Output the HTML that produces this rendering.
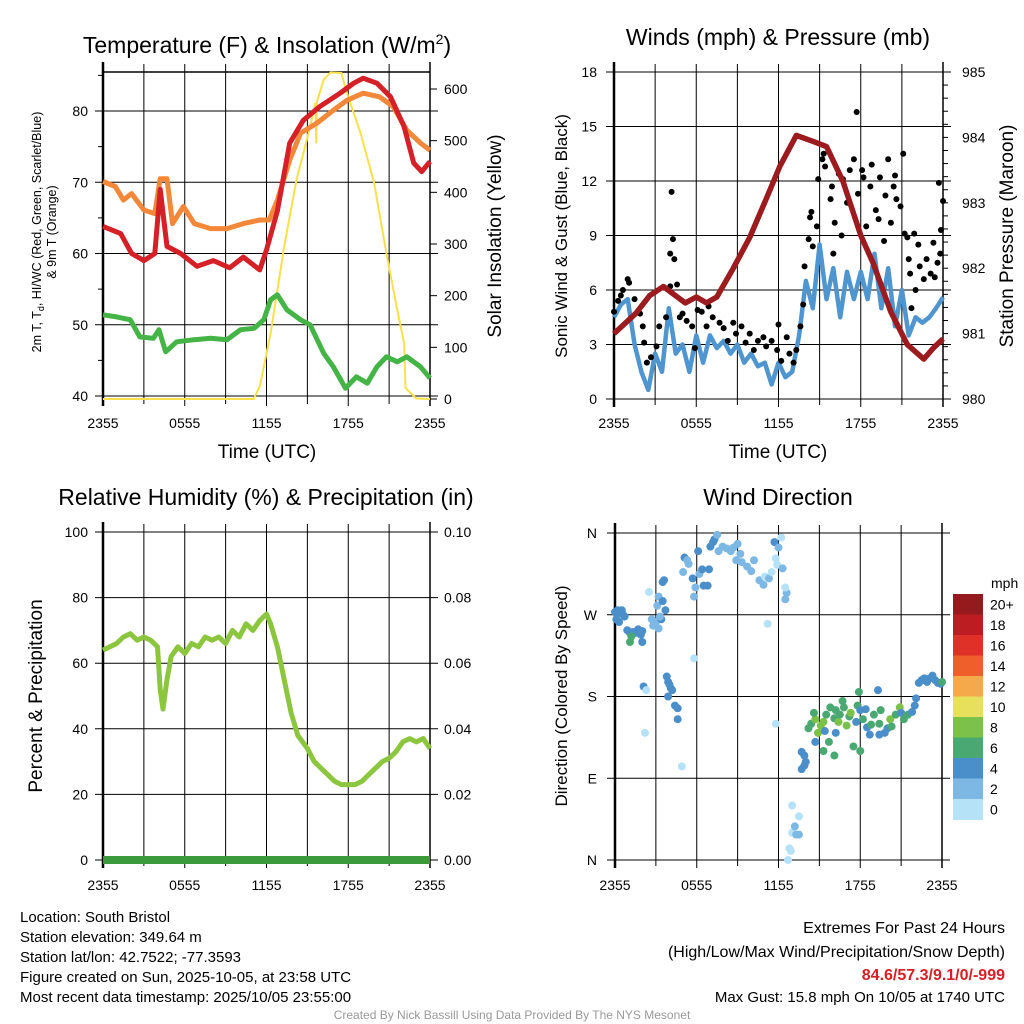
<!DOCTYPE html>
<html><head><meta charset="utf-8"><style>
body{margin:0;background:#fff;}
svg{display:block;font-family:"Liberation Sans",sans-serif;}
</style></head><body>
<svg id="c" width="1024" height="1024" viewBox="0 0 1024 1024"></svg>
<script>
// ---- Temperature panel data (hours since 2355 UTC) ----
const tRedH=[0,1.3,2.1,3,3.8,4.2,4.7,5.7,6.9,8.1,9.3,10.3,11.5,12,12.8,13.7,14.7,15.9,17.4,18.4,19.1,20.1,21.1,22.1,22.8,23.4,24];
const tRedV=[63.8,62.8,60,59,60,69,61,60,58.2,59,58,59.5,57.7,60.5,66,75.5,78.7,80.6,82.5,83.9,84.6,83.9,82,77.8,72.7,71.5,72.9];
const tOrH=[0,0.9,1.5,2.1,3,3.8,4.2,4.7,5.1,5.9,6.7,7.9,9.1,10.3,11.5,12.2,12.8,13.7,14.5,15.7,16.9,17.9,19.1,20.3,21.3,22.3,23.3,24];
const tOrV=[70.1,69.4,67.5,68.4,66.1,65.6,70.5,70.5,64.2,66.6,64.2,63.5,63.5,64.2,64.7,64.7,67.5,73.1,76.9,78.3,80.1,81.5,82.5,82,80.6,77.3,75.5,74.5];
const tGrH=[0,1,2,2.7,3.7,4.1,4.6,5.4,6.7,7.9,9.1,10.1,11.1,11.8,12.3,12.8,13.5,14.5,15.2,16.2,16.9,17.8,18.6,19.4,20.1,20.8,21.6,22.3,23.3,24];
const tGrV=[51.4,51.1,50.7,48.3,48.1,49.3,46.2,47.6,47.9,48.1,47.9,49.3,49.5,50.7,53.5,54.2,52.1,50.7,50,46,44.1,41.1,42.7,41.8,44.1,45.5,44.8,45.5,44.1,42.5];
const solH=[0,11.05,11.5,12.3,13.3,14.2,15.2,15.6,15.65,15.7,16.2,16.7,17.5,17.9,18.9,19.9,20.8,21.6,22.1,22.2,23,24];
const solV=[0,0,24,127,295,424,527,573,495,575,618,632,631,592,515,418,282,172,108,21,1,0];
// ---- Wind panel ----
const windH=[0,0.5,1,1.5,2,2.5,3,3.5,4,4.5,5,5.5,6,6.5,7,7.5,8,8.5,9,9.5,10,10.5,11,11.5,12,12.5,13,13.5,14,14.5,15,15.5,16,16.5,17,17.5,18,18.5,19,19.5,20,20.5,21,21.5,22,22.5,23,23.5,24];
const windV=[4.5,5.2,5.5,3,1.5,0.5,2.5,1.5,5,2.5,3,1.5,3.5,2,3.5,2.8,3.2,2.5,3,2,2.5,1.8,2,0.8,2,1.2,1.5,3.5,6.5,5,8.5,5.5,7.2,4.5,7,5.5,7,5.5,8,5,7.2,4,6,3.5,4.5,4.2,4.5,5,5.6];
const gustH=[0,0.3,0.5,0.65,1,1.1,1.5,1.9,2.1,2.2,2.4,2.7,3.1,3.3,3.8,4.1,4.1,4.3,4.2,4.4,4.6,4.8,5,5.3,5.7,5.9,6.1,6.4,6.75,6.9,7.2,7.7,8,8.3,8.7,8.9,9.3,9.6,9.9,10.2,10.5,10.9,11.1,11.5,11.9,12,12.2,12.6,12.8,13.1,13.3,13.6,13.8,13.9,14.2,14.3,14.4,14.5,14.8,14.9,15.2,15.3,15.4,15.8,15.9,16,16.1,16.4,16.6,16.7,17,17.2,17.5,17.7,17.8,18.1,18.2,18.4,18.7,18.8,19.1,19.3,19.4,19.7,19.8,20,20.2,20.4,20.5,20.6,20.9,21.1,21.2,21.4,21.5,21.6,21.7,21.9,22,22.2,22.3,22.6,22.8,23.1,23.3,23.4,23.6,23.7,23.8,23.85,24];
const gustV=[4.8,5.4,5.7,6,6.6,6.4,5.5,4.7,4,3.1,2,2.3,2.9,4,4.5,6.2,8,8.8,11.4,7.7,6.3,4.5,4.7,4.3,4,2.8,4.9,4.8,4,5.1,4.5,4.2,3.9,3.2,4.2,3.6,4,3.1,3.6,2.7,3.2,3.4,2.9,3.2,2.7,4.1,2.1,3.4,2.5,2,2.7,4,5.2,7.3,8.8,10,10.3,8.4,9.5,12.1,13.2,13.5,12.8,11,11.7,8,9.7,12.4,9,12.1,10.8,12.6,13.2,15.8,11.3,12.6,12.2,9.5,11.7,12.9,10.4,9.9,12.2,8.7,11.2,13.2,9.7,11.7,12.3,11,10.6,13.5,9.1,8.9,7.7,6.9,5,9.1,6,8.5,7.3,6.6,7.7,6.9,8.6,6.7,7.5,11.9,8,9.3,10.9];
const presH=[0,1.6,2.6,3.6,4.3,5.2,6,6.75,7.5,8.7,9.9,11.1,12.1,13.3,14.5,15.5,16.7,18,18.9,20.2,21.4,22.6,23.3,24];
const presV=[981.0,981.31,981.58,981.72,981.61,981.47,981.56,981.47,981.56,982.0,982.47,983.06,983.56,984.03,983.94,983.86,983.33,982.5,982.08,981.33,980.83,980.61,980.78,980.92];
// ---- RH panel ----
const rhH=[0,1,1.5,2,2.5,3,3.5,4,4.2,4.4,4.7,5,5.5,6,6.5,7,7.5,8,8.5,9,9.5,10,10.5,11,11.5,12,12.3,12.8,13.3,13.8,14.3,15,15.5,16,16.5,17,17.5,18,18.5,19,19.5,20,20.5,21,21.5,22,22.5,23,23.5,24];
const rhV=[64,66,68,69,67,68,67,65,52,46,55,62,65,63,66,65,68,67,68,66,70,68,72,70,73,75,72,65,55,45,38,34,30,28,26,24,23,23,23,24,26,28,30,31,33,36,37,36,37,34];
const precipH=[0,24];
const precipV=[0,0];
// ---- Wind direction ----
const dirH=[0,0.2,0.4,0.5,0.6,0.7,0.1,0.3,0.9,1.1,1.3,1.5,1.7,1.9,2.0,1.2,1.1,2.0,2.5,2.7,2.8,3.0,3.1,3.2,3.2,3.4,3.3,3.5,3.6,3.7,3.5,2.1,2.3,2.2,3.8,3.9,4.0,4.1,4.2,3.9,4.4,4.6,4.6,4.9,5.8,5.0,5.1,5.3,5.4,5.7,5.8,5.9,6.1,6.2,6.4,6.5,6.8,6.9,7.0,7.2,7.3,7.5,7.6,7.9,8.2,8.5,8.7,9.0,9.2,9.3,8.9,9.7,10.0,10.2,10.6,10.9,11.0,11.3,11.8,11.9,11.5,11.7,12.0,12.3,12.5,12.6,12.5,12.2,11.2,11.8,12.7,12.9,12.8,13.0,13.3,13.5,13.2,13.0,13.5,13.7,13.9,14.0,13.9,13.7,14.2,14.4,14.7,14.6,14.9,15.1,15.3,15.5,15.4,15.8,15.7,16.1,16.2,16.4,16.5,16.7,16.8,17.0,17.2,17.3,17.5,17.7,17.8,17.9,18.0,18.2,18.4,18.5,18.8,19.0,19.3,19.4,19.5,19.8,20.0,20.2,20.3,20.6,20.9,21.0,21.2,21.5,21.8,22.0,22.1,16.1,18.0,16.2,14.7,18.7,19.4,15.3,22.3,22.5,22.7,22.9,23.1,23.3,23.5,23.7,23.9,24.0];
const dirV=[273,275,272,275,270,268,265,262,253,250,251,250,254,248,252,246,240,240,295,265,258,262,280,255,290,265,268,306,308,275,285,191,187,140,202,196,193,189,187,180,170,167,155,103,222,317,333,330,326,310,290,300,340,315,320,302,302,320,345,350,353,358,340,345,343,340,344,348,337,328,330,323,318,330,308,303,312,310,332,325,317,350,344,321,287,294,300,355,260,150,0,10,13,30,28,28,37,60,48,100,104,108,115,119,145,150,155,162,140,148,152,160,142,168,130,156,165,152,160,175,168,148,158,162,125,152,170,185,165,155,166,146,149,160,187,150,165,140,145,155,147,160,168,162,155,160,163,170,178,115,120,140,130,138,138,120,195,198,200,196,200,203,198,195,194,196];
const dirS=[4,4,4,4,4,4,4,3,4,4,4,4,3,4,3,6,6,3,1,2,2,2,2,2,2,3,2,3,3,3,3,3,1,1,3,3,4,4,4,3,4,4,3,1,1,2,4,2,2,3,2,2,4,2,4,3,3,4,4,4,4,2,2,2,2,2,2,2,2,2,2,2,2,2,2,2,1,2,1,1,1,3,2,2,2,2,1,1,1,1,1,1,1,1,2,2,2,1,1,3,4,4,4,3,6,6,8,6,8,8,8,6,4,6,6,6,6,8,6,6,6,8,6,8,6,4,6,6,4,6,4,4,6,6,4,6,6,4,4,8,6,6,8,4,6,6,4,4,4,6,6,4,4,4,4,6,4,4,4,4,4,4,4,4,4,6];
const cbLabels=["20+","18","16","14","12","10","8","6","4","2","0"];
const cbColors=["#951a1d","#bb1d23","#df3127","#ef5f2b","#f6a94b","#e6e05c","#7cc24a","#4aa873","#4a8fc9","#7db8e4","#b6e2f8"];

const NS="http://www.w3.org/2000/svg";
const svg=document.getElementById('c');
function el(tag,attrs,parent,text){const e=document.createElementNS(NS,tag);for(const k in attrs)e.setAttribute(k,attrs[k]);if(text!==undefined)e.textContent=text;(parent||svg).appendChild(e);return e;}
function lin(d0,d1,r0,r1){return v=>r0+(v-d0)*(r1-r0)/(d1-d0);}
function pathFrom(xs,ys,fx,fy){return xs.map((h,i)=>(i?'L':'M')+fx(h).toFixed(1)+','+fy(ys[i]).toFixed(1)).join('');}
function txt(x,y,s,size,anchor,extra,name){const t=el('text',Object.assign({x:x,y:y,'font-size':size,'text-anchor':anchor||'middle',fill:'#000'},extra||{}),svg,s);return t;}
function speedIdx(s){return 10-(s<=1?0:(s<=2?1:Math.ceil(s/2)));}

function frame(x0,x1,y0,y1,name,hTicks,fyL,xlabY){
  const g=el('g',{});
  const fx=lin(0,24,x0,x1);
  for(let h=0;h<=24;h+=3){el('line',{x1:fx(h),x2:fx(h),y1:y0-8,y2:y1+(h%6==0?8:6),stroke:'#000','stroke-width':1},g);}
  hTicks.forEach(v=>{el('line',{x1:x0-8,x2:x1+8,y1:fyL(v),y2:fyL(v),stroke:'#000','stroke-width':1},g);});
  el('line',{x1:x0,x2:x0,y1:y0-10,y2:y1+8,stroke:'#000','stroke-width':2.5},g);
  el('line',{x1:x1,x2:x1,y1:y0-10,y2:y1+8,stroke:'#000','stroke-width':1.5},g);
  const labs=['2355','0555','1155','1755','2355'];
  labs.forEach((l,i)=>txt(fx(i*6),xlabY,l,14,'middle',{},'x-tick-label'));
  return fx;
}

// ===== Panel 1 =====
(function(){
  const x0=103,x1=430,y0=72,y1=398;
  const fy=lin(40,80,396,111), fs=lin(0,600,399,89);
  const fx=frame(x0,x1,y0,y1,'temp',[40,50,60,70,80],fy,428);
  el('line',{x1:x0,x2:x1,y1:y0,y2:y0,stroke:'#000','stroke-width':1.5});
  [40,50,60,70,80].forEach(v=>txt(88,fy(v)+5,String(v),14,'end',{},'temp-y-tick'));
  [0,100,200,300,400,500,600].forEach(v=>{txt(444,fs(v)+5,String(v),14,'start',{},'solar-y-tick');el('line',{x1:x1,x2:x1+7,y1:fs(v),y2:fs(v),stroke:'#000'});});
  for(let v=45;v<=85;v+=10)el('line',{x1:x0-5,x2:x0,y1:fy(v),y2:fy(v),stroke:'#000'});
  let p;
  p=el('path',{d:pathFrom(solH,solV,fx,fs),fill:'none',stroke:'#f9e04b','stroke-width':2});
  p=el('path',{d:pathFrom(tOrH,tOrV,fx,fy),fill:'none',stroke:'#f4883a','stroke-width':5,'stroke-linejoin':'round'});
  p=el('path',{d:pathFrom(tRedH,tRedV,fx,fy),fill:'none',stroke:'#d52027','stroke-width':5,'stroke-linejoin':'round'});
  p=el('path',{d:pathFrom(tGrH,tGrV,fx,fy),fill:'none',stroke:'#45b446','stroke-width':5,'stroke-linejoin':'round'});
  const t=txt(267,53,'Temperature (F) & Insolation (W/m',23,'middle',{},'temp-title');
  el('tspan',{dy:-9,'font-size':14},t,'2');el('tspan',{dy:9},t,')');
  txt(267,458,'Time (UTC)',19,'middle',{},'temp-x-title');
  txt(0,0,'2m T, T',12.5,'middle',{transform:'translate(41,232) rotate(-90)'},'temp-y-title');
  const tt=svg.lastChild;tt.textContent='';tt.appendChild(document.createTextNode('2m T, T'));el('tspan',{dy:3,'font-size':9},tt,'d');el('tspan',{dy:-3},tt,', HI/WC (Red, Green, Scarlet/Blue)');
  txt(0,0,'& 9m T (Orange)',12.5,'middle',{transform:'translate(56,232) rotate(-90)'},'temp-y-title-2');
  txt(0,0,'Solar Insolation (Yellow)',19,'middle',{transform:'translate(501,236) rotate(-90)'},'solar-y-title');
})();

// ===== Panel 2 =====
(function(){
  const x0=614,x1=943,y0=72,y1=399;
  const fy=lin(0,18,399,72), fp=lin(980,985,399,72);
  const fx=frame(x0,x1,y0,y1,'wind',[0,3,6,9,12,15,18],fy,428);
  [0,3,6,9,12,15,18].forEach(v=>txt(597,fy(v)+5,String(v),14,'end',{},'wind-y-tick'));
  [980,981,982,983,984,985].forEach(v=>txt(962,fp(v)+5,String(v),14,'start',{},'pressure-y-tick'));
  for(let v=980;v<985;v+=0.2)el('line',{x1:x1,x2:x1+5,y1:fp(v),y2:fp(v),stroke:'#000'});
  let p=el('path',{d:pathFrom(windH,windV,fx,fy),fill:'none',stroke:'#4f95d0','stroke-width':4.5,'stroke-linejoin':'round'});
  gustH.forEach((h,i)=>{const c=el('circle',{cx:fx(h),cy:fy(gustV[i]),r:3,fill:'#000'});});
  p=el('path',{d:pathFrom(presH,presV,fx,fp),fill:'none',stroke:'#9b1b1e','stroke-width':5.5,'stroke-linejoin':'round'});
  txt(778,45,'Winds (mph) & Pressure (mb)',23,'middle',{},'wind-title');
  txt(778,458,'Time (UTC)',19,'middle',{},'wind-x-title');
  txt(0,0,'Sonic Wind & Gust (Blue, Black)',17,'middle',{transform:'translate(567,236) rotate(-90)'},'wind-y-title');
  txt(0,0,'Station Pressure (Maroon)',19,'middle',{transform:'translate(1013,236) rotate(-90)'},'pressure-y-title');
})();

// ===== Panel 3 =====
(function(){
  const x0=103,x1=430,y0=532,y1=860;
  const fy=lin(0,100,860,532), fr=lin(0,0.1,860,532);
  const fx=frame(x0,x1,y0,y1,'rh',[0,20,40,60,80,100],fy,890);
  [0,20,40,60,80,100].forEach(v=>txt(88,fy(v)+5,String(v),14,'end',{},'rh-y-tick'));
  [0,0.02,0.04,0.06,0.08,0.1].forEach(v=>txt(444,fr(v)+5,v.toFixed(2),14,'start',{},'precip-y-tick'));
  let p=el('path',{d:pathFrom(rhH,rhV,fx,fy),fill:'none',stroke:'#8cc63f','stroke-width':5,'stroke-linejoin':'round'});
  p=el('path',{d:pathFrom(precipH,precipV,fx,fr),fill:'none',stroke:'#3a9a3c','stroke-width':8});
  txt(266,505,'Relative Humidity (%) & Precipitation (in)',23,'middle',{},'rh-title');
  txt(0,0,'Percent & Precipitation',19,'middle',{transform:'translate(42,696) rotate(-90)'},'rh-y-title');
})();

// ===== Panel 4 =====
(function(){
  const x0=615,x1=942,y0=533,y1=860;
  const fy=lin(0,360,860,533);
  const fx=frame(x0,x1,y0,y1,'dir',[0,90,180,270,360],fy,890);
  ['N','E','S','W','N'].forEach((l,i)=>txt(597,fy(i*90)+5,l,14,'end',{},'dir-y-tick'));
  dirH.forEach((h,i)=>{const c=el('circle',{cx:fx(h),cy:fy(dirV[i]),r:4,fill:cbColors[speedIdx(dirS[i])]});});
  txt(778,505,'Wind Direction',23,'middle',{},'dir-title');
  txt(0,0,'Direction (Colored By Speed)',17,'middle',{transform:'translate(567,696) rotate(-90)'},'dir-y-title');
  const bh=20.5;
  cbColors.forEach((c,i)=>{const r=el('rect',{x:953,y:594+i*bh,width:30,height:bh+0.5,fill:c});
    txt(990,594+i*bh+bh/2+5,cbLabels[i],14,'start',{},'colorbar-label');});
  txt(991,588,'mph',14,'start',{},'colorbar-title');
})();

// ===== Footer text =====
['Location: South Bristol','Station elevation: 349.64 m','Station lat/lon: 42.7522; -77.3593','Figure created on Sun, 2025-10-05, at 23:58 UTC','Most recent data timestamp: 2025/10/05 23:55:00'].forEach((s,i)=>txt(20,922+i*20,s,15,'start',{},'station-info'));
txt(1005,933,'Extremes For Past 24 Hours',16,'end',{},'extremes-title');
txt(1005,957,'(High/Low/Max Wind/Precipitation/Snow Depth)',16,'end',{},'extremes-legend');
txt(1005,980,'84.6/57.3/9.1/0/-999',16,'end',{fill:'#d52027','font-weight':'bold'},'extremes-values');
txt(1005,1002,'Max Gust: 15.8 mph On 10/05 at 1740 UTC',15,'end',{},'max-gust');
txt(512,1019,'Created By Nick Bassill Using Data Provided By The NYS Mesonet',12,'middle',{fill:'#999'},'credit');
</script>
</body></html>
